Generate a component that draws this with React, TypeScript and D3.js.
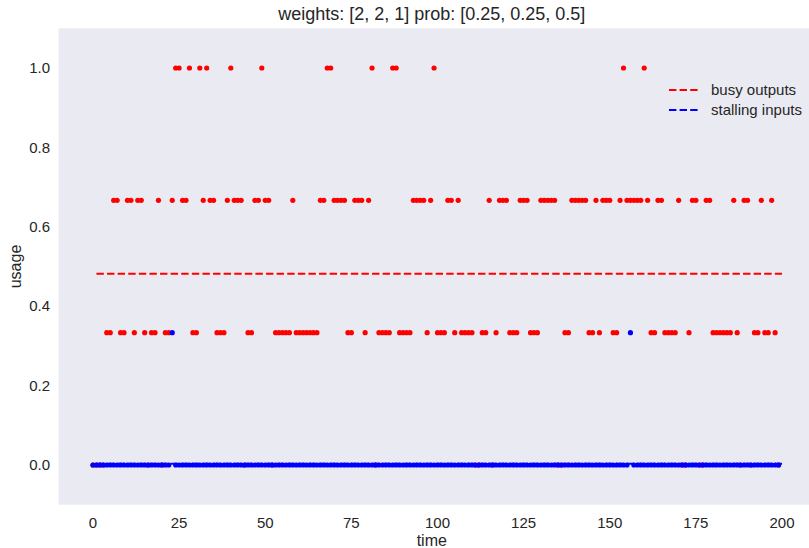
import * as d3 from 'd3';
import React, { useRef, useEffect } from 'react';

const L = 1 / 3
const H = 2 / 3

// usage per time step (0..199)
const busyOutputs = [
    0, 0, 0, 0, L, L, H, H, L, L, H, H, L, H, H, L, 0, L, L, H,
    0, L, L, H, 1, 1, H, H, 1, L, L, 1, H, 1, H, H, L, L, L, H,
    1, H, H, H, 0, L, L, H, H, 1, H, H, 0, L, L, L, L, L, H, L,
    L, L, L, L, L, L, H, H, 1, 1, H, H, H, H, L, L, H, H, H, L,
    H, 1, 0, L, L, L, L, 1, 1, L, L, L, L, H, H, H, H, L, H, 1,
    L, L, L, H, H, L, H, L, L, L, L, 0, 0, L, L, H, 0, L, H, H,
    H, L, L, L, H, H, H, L, L, L, H, H, H, H, H, 0, 0, L, L, H,
    H, H, H, H, L, L, H, L, H, H, H, L, L, H, 1, H, H, H, H, H,
    1, H, L, L, H, H, L, L, L, L, H, 0, 0, L, H, H, 0, 0, H, H,
    L, L, L, L, L, L, H, L, 0, H, H, 0, L, L, H, L, L, H, L, 0
]

const stallingInputs = [
    0, 0, 0, 0, 0, 0, 0, 0, 0, 0, 0, 0, 0, 0, 0, 0, 0, 0, 0, 0,
    0, 0, 0, L, 0, 0, 0, 0, 0, 0, 0, 0, 0, 0, 0, 0, 0, 0, 0, 0,
    0, 0, 0, 0, 0, 0, 0, 0, 0, 0, 0, 0, 0, 0, 0, 0, 0, 0, 0, 0,
    0, 0, 0, 0, 0, 0, 0, 0, 0, 0, 0, 0, 0, 0, 0, 0, 0, 0, 0, 0,
    0, 0, 0, 0, 0, 0, 0, 0, 0, 0, 0, 0, 0, 0, 0, 0, 0, 0, 0, 0,
    0, 0, 0, 0, 0, 0, 0, 0, 0, 0, 0, 0, 0, 0, 0, 0, 0, 0, 0, 0,
    0, 0, 0, 0, 0, 0, 0, 0, 0, 0, 0, 0, 0, 0, 0, 0, 0, 0, 0, 0,
    0, 0, 0, 0, 0, 0, 0, 0, 0, 0, 0, 0, 0, 0, 0, 0, L, 0, 0, 0,
    0, 0, 0, 0, 0, 0, 0, 0, 0, 0, 0, 0, 0, 0, 0, 0, 0, 0, 0, 0,
    0, 0, 0, 0, 0, 0, 0, 0, 0, 0, 0, 0, 0, 0, 0, 0, 0, 0, 0, 0
]

const xTicks = [0, 25, 50, 75, 100, 125, 150, 175, 200]
const yTicks = [0, 0.2, 0.4, 0.6, 0.8, 1.0]
const series = [
    { label: 'busy outputs', values: busyOutputs, colour: '#ff0000' },
    { label: 'stalling inputs', values: stallingInputs, colour: '#0000ff' }
]

const W = 809
const HGT = 548
const font = '"Liberation Sans", Arial, sans-serif'

export default function App() {
    const ref = useRef(null)

    useEffect(() => {
        const svg = d3.select(ref.current)
        svg.selectAll('*').remove()

        const x = d3.scaleLinear().domain([-10, 210]).range([58.55, 816.45])
        const y = d3.scaleLinear().domain([-0.1, 1.1]).range([504.7, 28.3])

        const left = x(-10), right = Math.min(x(210), W)

        svg.append('rect')
            .attr('x', left).attr('y', y(1.1))
            .attr('width', right - left).attr('height', y(-0.1) - y(1.1))
            .attr('fill', '#eaeaf2')

        const plot = svg.append('g')

        series.forEach(s => {
            plot.selectAll('.dot')
                .data(s.values)
                .enter().append('circle')
                .attr('cx', (d, i) => x(i))
                .attr('cy', d => y(d))
                .attr('r', 2.6)
                .attr('fill', s.colour)

            const m = d3.mean(s.values)
            plot.append('line')
                .attr('x1', x(1)).attr('x2', x(200))
                .attr('y1', y(m)).attr('y2', y(m))
                .attr('stroke', s.colour)
                .attr('stroke-width', 2)
                .attr('stroke-dasharray', '7.4,3.2')
        })

        // x ticks
        svg.append('g').selectAll('text')
            .data(xTicks)
            .enter().append('text')
            .attr('x', d => x(d))
            .attr('y', 528)
            .attr('text-anchor', 'middle')
            .style('font-family', font)
            .style('font-size', '15px')
            .style('fill', '#262626')
            .text(d => d)

        // y ticks
        svg.append('g').selectAll('text')
            .data(yTicks)
            .enter().append('text')
            .attr('x', 50)
            .attr('y', d => y(d))
            .attr('dy', '0.35em')
            .attr('text-anchor', 'end')
            .style('font-family', font)
            .style('font-size', '15px')
            .style('fill', '#262626')
            .text(d => d3.format('.1f')(d))

        svg.append('text')
            .attr('x', (left + 805) / 2)
            .attr('y', 546)
            .attr('text-anchor', 'middle')
            .style('font-family', font)
            .style('font-size', '16px')
            .style('fill', '#262626')
            .text('time')

        svg.append('text')
            .attr('transform', `translate(21, ${(y(-0.1) + y(1.1)) / 2}) rotate(-90)`)
            .attr('text-anchor', 'middle')
            .style('font-family', font)
            .style('font-size', '16px')
            .style('fill', '#262626')
            .text('usage')

        svg.append('text')
            .attr('x', (left + 805) / 2)
            .attr('y', 20)
            .attr('text-anchor', 'middle')
            .style('font-family', font)
            .style('font-size', '18px')
            .style('fill', '#262626')
            .text('weights: [2, 2, 1] prob: [0.25, 0.25, 0.5]')

        // legend
        const legend = svg.append('g')
        series.forEach((s, i) => {
            const ly = 90 + i * 20
            legend.append('line')
                .attr('x1', 669).attr('x2', 700)
                .attr('y1', ly).attr('y2', ly)
                .attr('stroke', s.colour)
                .attr('stroke-width', 2)
                .attr('stroke-dasharray', '7.4,3.2')
            legend.append('text')
                .attr('x', 711)
                .attr('y', ly)
                .attr('dy', '0.35em')
                .style('font-family', font)
                .style('font-size', '15px')
                .style('fill', '#262626')
                .text(s.label)
        })
    }, [])

    return (
        <svg ref={ref} width={W} height={HGT} style={{ display: 'block', position: 'absolute', left: 0, top: 0, background: '#fff' }} />
    )
}
